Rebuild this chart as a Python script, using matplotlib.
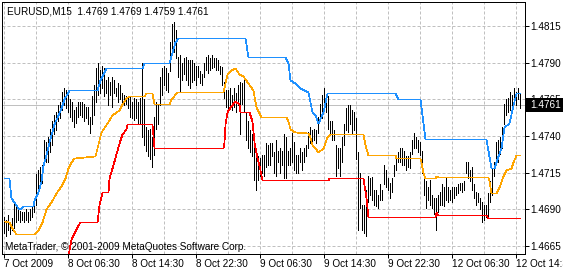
import matplotlib.pyplot as plt
from matplotlib.patches import Rectangle

### EURUSD M15 bar chart with a three line price channel,
### MetaTrader look: white background, dashed silver grid,
### prices on the right, times along the bottom.

plt.rcParams['font.family'] = ['Liberation Sans', 'DejaVu Sans']
plt.rcParams['lines.scale_dashes'] = False

#### Data ####
# bar highs / lows, one per 15 min bar, 7 Oct 22:30 onwards
bar_high = [
    1.4685, 1.4683, 1.4686, 1.4681, 1.4684, 1.4694, 1.4693, 1.4690, 1.4689, 1.4688,
    1.4688, 1.4690, 1.4688, 1.4690, 1.4692, 1.4696, 1.4714, 1.4717, 1.4719, 1.4720,
    1.4737, 1.4736, 1.4739, 1.4745, 1.4750, 1.4754, 1.4756, 1.4761, 1.4763, 1.4770,
    1.4773, 1.4771, 1.4768, 1.4765, 1.4763, 1.4758, 1.4760, 1.4763, 1.4763, 1.4763,
    1.4762, 1.4760, 1.4760, 1.4753, 1.4767, 1.4775, 1.4786, 1.4790, 1.4785, 1.4788,
    1.4786, 1.4778, 1.4780, 1.4777, 1.4780, 1.4778, 1.4773, 1.4776, 1.4775, 1.4769,
    1.4768, 1.4767, 1.4766, 1.4767, 1.4763, 1.4766, 1.4765, 1.4763, 1.4766, 1.4790,
    1.4765, 1.4746, 1.4744, 1.4745, 1.4739, 1.4753, 1.4763, 1.4761, 1.4780, 1.4786,
    1.4788, 1.4786, 1.4783, 1.4804, 1.4816, 1.4818, 1.4812, 1.4794, 1.4795, 1.4790,
    1.4793, 1.4794, 1.4792, 1.4792, 1.4792, 1.4790, 1.4788, 1.4788, 1.4784, 1.4782,
    1.4790, 1.4794, 1.4795, 1.4793, 1.4795, 1.4793, 1.4793, 1.4792, 1.4788, 1.4787,
    1.4777, 1.4771, 1.4771, 1.4773, 1.4768, 1.4773, 1.4769, 1.4775, 1.4777, 1.4776,
    1.4778, 1.4756, 1.4750, 1.4744, 1.4741, 1.4732, 1.4729, 1.4726, 1.4725, 1.4727,
    1.4727, 1.4735, 1.4734, 1.4735, 1.4735, 1.4729, 1.4737, 1.4730, 1.4732, 1.4730,
    1.4741, 1.4739, 1.4730, 1.4732, 1.4742, 1.4736, 1.4727, 1.4727, 1.4732, 1.4729,
    1.4732, 1.4734, 1.4743, 1.4746, 1.4744, 1.4745, 1.4744, 1.4753, 1.4762, 1.4768,
    1.4773, 1.4768, 1.4767, 1.4750, 1.4750, 1.4744, 1.4734, 1.4732, 1.4732, 1.4739,
    1.4748, 1.4759, 1.4761, 1.4761, 1.4758, 1.4756, 1.4752, 1.4729, 1.4715, 1.4693,
    1.4693, 1.4703, 1.4713, 1.4711, 1.4712, 1.4703, 1.4703, 1.4700, 1.4707, 1.4703,
    1.4720, 1.4717, 1.4711, 1.4708, 1.4711, 1.4720, 1.4726, 1.4729, 1.4732, 1.4732,
    1.4730, 1.4726, 1.4726, 1.4729, 1.4737, 1.4742, 1.4739, 1.4737, 1.4736, 1.4730,
    1.4715, 1.4709, 1.4705, 1.4710, 1.4700, 1.4698, 1.4698, 1.4700, 1.4702, 1.4707,
    1.4705, 1.4711, 1.4705, 1.4703, 1.4705, 1.4705, 1.4705, 1.4707, 1.4708, 1.4708,
    1.4709, 1.4722, 1.4722, 1.4717, 1.4719, 1.4707, 1.4702, 1.4701, 1.4698, 1.4695,
    1.4693, 1.4693, 1.4701, 1.4709, 1.4718, 1.4722, 1.4736, 1.4737, 1.4739, 1.4746,
    1.4762, 1.4765, 1.4766, 1.4770, 1.4768, 1.4773, 1.4770, 1.4773, 1.4769,
]
bar_low = [
    1.4674, 1.4672, 1.4676, 1.4673, 1.4676, 1.4677, 1.4681, 1.4683, 1.4681, 1.4683,
    1.4681, 1.4683, 1.4681, 1.4683, 1.4685, 1.4688, 1.4693, 1.4702, 1.4705, 1.4708,
    1.4720, 1.4722, 1.4722, 1.4729, 1.4734, 1.4741, 1.4744, 1.4750, 1.4752, 1.4758,
    1.4761, 1.4759, 1.4756, 1.4753, 1.4750, 1.4746, 1.4749, 1.4753, 1.4754, 1.4753,
    1.4750, 1.4752, 1.4748, 1.4742, 1.4748, 1.4754, 1.4763, 1.4768, 1.4769, 1.4773,
    1.4767, 1.4769, 1.4761, 1.4768, 1.4760, 1.4769, 1.4767, 1.4763, 1.4765, 1.4761,
    1.4761, 1.4762, 1.4759, 1.4753, 1.4752, 1.4751, 1.4752, 1.4748, 1.4748, 1.4739,
    1.4734, 1.4730, 1.4726, 1.4724, 1.4719, 1.4727, 1.4745, 1.4748, 1.4761, 1.4768,
    1.4775, 1.4771, 1.4770, 1.4784, 1.4795, 1.4797, 1.4793, 1.4780, 1.4770, 1.4778,
    1.4782, 1.4778, 1.4775, 1.4773, 1.4777, 1.4778, 1.4775, 1.4780, 1.4776, 1.4775,
    1.4780, 1.4785, 1.4783, 1.4785, 1.4786, 1.4787, 1.4785, 1.4785, 1.4782, 1.4775,
    1.4766, 1.4760, 1.4756, 1.4761, 1.4758, 1.4760, 1.4756, 1.4761, 1.4741, 1.4762,
    1.4756, 1.4737, 1.4732, 1.4729, 1.4726, 1.4710, 1.4703, 1.4710, 1.4713, 1.4715,
    1.4713, 1.4719, 1.4720, 1.4720, 1.4726, 1.4715, 1.4713, 1.4722, 1.4715, 1.4720,
    1.4711, 1.4711, 1.4720, 1.4720, 1.4722, 1.4717, 1.4715, 1.4715, 1.4722, 1.4717,
    1.4722, 1.4726, 1.4732, 1.4735, 1.4735, 1.4737, 1.4735, 1.4742, 1.4750, 1.4752,
    1.4758, 1.4756, 1.4745, 1.4741, 1.4737, 1.4737, 1.4713, 1.4718, 1.4713, 1.4722,
    1.4734, 1.4744, 1.4743, 1.4748, 1.4742, 1.4744, 1.4724, 1.4676, 1.4691, 1.4676,
    1.4674, 1.4672, 1.4695, 1.4700, 1.4696, 1.4693, 1.4692, 1.4691, 1.4696, 1.4696,
    1.4707, 1.4705, 1.4703, 1.4698, 1.4702, 1.4713, 1.4717, 1.4722, 1.4722, 1.4720,
    1.4720, 1.4717, 1.4719, 1.4718, 1.4728, 1.4732, 1.4732, 1.4729, 1.4727, 1.4715,
    1.4700, 1.4691, 1.4696, 1.4693, 1.4691, 1.4687, 1.4676, 1.4688, 1.4693, 1.4693,
    1.4692, 1.4696, 1.4695, 1.4696, 1.4695, 1.4698, 1.4700, 1.4701, 1.4703, 1.4702,
    1.4703, 1.4715, 1.4711, 1.4709, 1.4703, 1.4698, 1.4693, 1.4695, 1.4690, 1.4681,
    1.4683, 1.4685, 1.4684, 1.4695, 1.4700, 1.4713, 1.4722, 1.4722, 1.4728, 1.4732,
    1.4748, 1.4754, 1.4756, 1.4758, 1.4756, 1.4765, 1.4761, 1.4765, 1.4759,
]

# channel lines, vertices as (bar index, price)
upper_idx = [0, 2.5, 3.5, 5, 7, 8, 9.5, 14.5, 15, 17, 18.5, 19.5, 21, 22.5, 25, 27,
             28.5, 30, 32, 32.5, 46.5, 48, 51, 69, 70, 82.5, 84, 85.5, 87, 120.5,
             122, 140.5, 142, 143, 145.5, 148, 152, 154, 155.5, 157, 159.5, 161.5,
             195.5, 197, 208, 210.5, 241, 243.5, 245, 247, 248.5, 250, 252.5,
             254.5, 256, 258]
upper_val = [1.4711, 1.4711, 1.4698, 1.4695, 1.4691, 1.4690, 1.4692, 1.4692, 1.4696,
             1.4702, 1.4709, 1.4720, 1.4727, 1.4736, 1.4748, 1.4754, 1.4759, 1.4765,
             1.4770, 1.4771, 1.4771, 1.4778, 1.4786, 1.4786, 1.4790, 1.4790, 1.4797,
             1.4804, 1.4807, 1.4807, 1.4794, 1.4794, 1.4790, 1.4778, 1.4776, 1.4773,
             1.4770, 1.4756, 1.4754, 1.4749, 1.4756, 1.4769, 1.4769, 1.4765, 1.4765,
             1.4738, 1.4738, 1.4718, 1.4718, 1.4726, 1.4732, 1.4746, 1.4749, 1.4761,
             1.4769, 1.4769]

middle_idx = [0, 2.5, 4, 6, 15, 17, 19, 21, 23.5, 26, 28.5, 30.5, 32, 33.5, 35, 45.5,
              46.5, 48.5, 51.5, 54, 57.5, 59, 61, 62.5, 70, 71, 74, 75, 82.5, 83.5,
              86.5, 109.5, 111.5, 113.5, 115.5, 117.5, 119.5, 122, 124.5, 126, 128.5,
              141, 142, 143, 145.5, 152, 153, 154, 155.5, 157, 159.5, 161.5, 163,
              179.5, 180.5, 182, 195.5, 196, 208, 208.5, 209.5, 210.5, 215.5, 216,
              217, 242, 242.5, 243.5, 246, 247.5, 249.5, 251, 253.5, 254.5, 256, 258]
middle_val = [1.4682, 1.4681, 1.4677, 1.4673, 1.4673, 1.4676, 1.4681, 1.4690, 1.4695,
              1.4701, 1.4706, 1.4711, 1.4718, 1.4722, 1.4725, 1.4726, 1.4732, 1.4743,
              1.4749, 1.4754, 1.4758, 1.4762, 1.4766, 1.4767, 1.4767, 1.4769, 1.4769,
              1.4762, 1.4762, 1.4765, 1.4770, 1.4770, 1.4782, 1.4785, 1.4786, 1.4782,
              1.4781, 1.4776, 1.4771, 1.4760, 1.4753, 1.4753, 1.4750, 1.4745, 1.4743,
              1.4742, 1.4739, 1.4734, 1.4732, 1.4729, 1.4732, 1.4739, 1.4741, 1.4741,
              1.4734, 1.4727, 1.4727, 1.4725, 1.4725, 1.4722, 1.4715, 1.4711, 1.4711,
              1.4713, 1.4712, 1.4712, 1.4709, 1.4701, 1.4701, 1.4705, 1.4713, 1.4717,
              1.4718, 1.4722, 1.4727, 1.4727]

lower_idx = [31.5, 33.5, 35, 37, 38, 46.5, 47.5, 49, 52, 52.5, 54, 56, 57.5, 59, 61,
             61.5, 74, 75, 109.5, 110, 110.5, 111.5, 113, 115.5, 117.5, 118, 122.5,
             124, 125, 126.5, 127.5, 129, 162, 162.5, 179.5, 181, 182, 215.5, 216,
             217, 241, 242, 258]
lower_val = [1.4655, 1.4670, 1.4674, 1.4679, 1.4681, 1.4681, 1.4693, 1.4702, 1.4702,
             1.4711, 1.4718, 1.4728, 1.4735, 1.4741, 1.4745, 1.4748, 1.4748, 1.4732,
             1.4732, 1.4736, 1.4748, 1.4756, 1.4760, 1.4764, 1.4762, 1.4756, 1.4756,
             1.4750, 1.4736, 1.4725, 1.4720, 1.4710, 1.4710, 1.4711, 1.4711, 1.4698,
             1.4685, 1.4685, 1.4688, 1.4686, 1.4686, 1.4684, 1.4684]

last_price = 1.4761
header = "EURUSD,M15  1.4769 1.4769 1.4759 1.4761"
copyright = "MetaTrader, \u00a9 2001-2009 MetaQuotes Software Corp."
price_ticks = [1.4665, 1.4690, 1.4715, 1.4740, 1.4765, 1.4790, 1.4815]
time_labels = ["7 Oct 2009", "8 Oct 06:30", "8 Oct 14:30", "8 Oct 22:30",
               "9 Oct 06:30", "9 Oct 14:30", "9 Oct 22:30", "12 Oct 06:30",
               "12 Oct 14:30"]
bars_per_label = 32

#### Plot ####
W, H = 563, 271
px = 72 / 100          # one pixel in points
fs = 7.2
fig = plt.figure(figsize=(W / 100, H / 100), dpi=100)
ax = fig.add_axes([2 / W, 17 / H, 523 / W, 252 / H])

nbar = len(bar_high)
ax.set_xlim(-0.75, 260.75)
ax.set_ylim(1.46595, 1.48313)

grid_col = '#c0c0c0'
dash = (0, (3 * px, 2 * px))
for p in price_ticks:
    ax.axhline(p, color=grid_col, lw=px, ls=dash, zorder=0)
for i in range(0, nbar + 16, bars_per_label // 2):
    ax.axvline(i, color=grid_col, lw=px, ls=dash, zorder=0)
ax.axhline(last_price, color=grid_col, lw=px, zorder=1)

ax.vlines(range(nbar), bar_low, bar_high, color='black', lw=px,
          antialiased=False, snap=True, zorder=2)

# thin aliased lines snapped to the pixel grid, like the terminal draws them
for xs, ys, col in [(upper_idx, upper_val, '#1e90ff'),
                    (middle_idx, middle_val, '#ffa500'),
                    (lower_idx, lower_val, '#ff0000')]:
    ln, = ax.plot(xs, ys, color=col, lw=0.7 * px, antialiased=False, zorder=3)
    ln.set_snap(True)

# axes frame and ticks
for s in ax.spines.values():
    s.set_linewidth(px)
    s.set_color('black')
ax.yaxis.tick_right()
ax.set_yticks(price_ticks)
ax.set_yticklabels(['%.4f' % p for p in price_ticks])
ax.set_xticks([k * bars_per_label for k in range(len(time_labels))])
ax.set_xticklabels(time_labels)
for lbl in ax.get_xticklabels():
    lbl.set_ha('left')
ax.tick_params(axis='y', direction='out', length=3.5 * px, width=px,
               pad=2 * px, labelsize=fs)
ax.tick_params(axis='x', direction='out', length=4 * px, width=px,
               pad=1 * px, labelsize=fs)

# text overlays
fig.text(7 / W, 1 - 15 / H, header, fontsize=fs, va='baseline')
fig.text(5 / W, 1 - 250 / H, copyright, fontsize=fs, va='baseline')

fig.patches.append(Rectangle((526 / W, 1 - 112 / H), 37 / W, 14 / H,
                             transform=fig.transFigure, fc='black', ec='none'))
fig.text(530 / W, 1 - 105 / H, '%.4f' % last_price, color='white',
         fontsize=fs, va='center')

fig.savefig('out.png', dpi=100)
